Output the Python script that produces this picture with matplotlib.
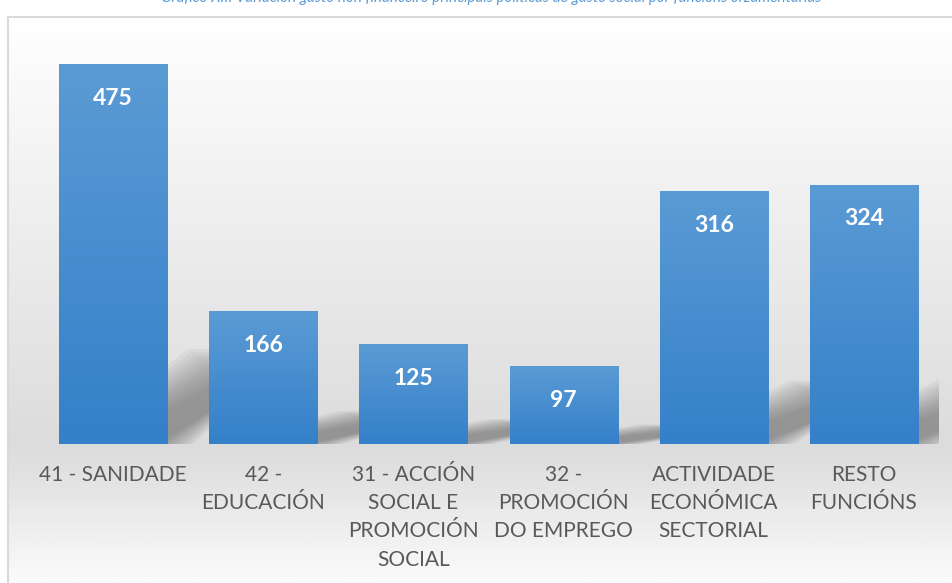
import matplotlib.pyplot as plt
import numpy as np
from matplotlib.colors import LinearSegmentedColormap
from matplotlib.patches import Polygon

plt.rcParams['font.family'] = ['Lato', 'DejaVu Sans']

# datos: variación gasto non financeiro por funcións (millóns €)
categorias = ['41 - SANIDADE', '42 -\nEDUCACIÓN', '31 - ACCIÓN\nSOCIAL E\nPROMOCIÓN\nSOCIAL',
              '32 -\nPROMOCIÓN\nDO EMPREGO', 'ACTIVIDADE\nECONÓMICA\nSECTORIAL', 'RESTO\nFUNCIÓNS']
valores = [475, 166, 125, 97, 316, 324]
titulo = ('Gráfico XII. Variación gasto non financeiro principais políticas de gasto social '
          'por funcións orzamentarias')

W, H = 953, 583
fig = plt.figure(figsize=(W / 100, H / 100), dpi=100)

# fondo do gráfico con degradado vertical
bg = fig.add_axes([8 / W, 0, 1 - 8 / W, (H - 17) / H], zorder=0)
bg_cmap = LinearSegmentedColormap.from_list(
    'bg', [(0, '#ffffff'), (0.235, '#f4f4f4'), (0.756, '#dcdcdc'), (0.80, '#e0e0e0'), (1, '#fbfbfb')])
bg.imshow(np.linspace(0, 1, 300).reshape(-1, 1), aspect='auto', cmap=bg_cmap,
          extent=[0, 1, 0, 1], origin='upper')
bg.set_xlim(0, 1)
bg.set_ylim(0, 1)
bg.set_xticks([])
bg.set_yticks([])
for s in ['right', 'bottom']:
    bg.spines[s].set_visible(False)
for s in ['left', 'top']:
    bg.spines[s].set_color('#d9d9d9')
    bg.spines[s].set_linewidth(1.5)

fig.text(0.515, 1 + 2 / H, titulo, ha='center', va='center', fontsize=11,
         style='italic', color='#5b9bd5')

ax = fig.add_axes([38 / W, (H - 444) / H, 901 / W, 400 / H], zorder=1)
ax.patch.set_visible(False)
x = np.arange(len(valores))
bars = ax.bar(x, valores, width=0.72, color='#4a8fd2', zorder=3)
ax.set_xlim(-0.5, len(valores) - 0.5)
ax.set_ylim(0, 500)

# sombras en perspectiva detrás das barras
for b in bars:
    x0, w, h = b.get_x(), b.get_width(), b.get_height()
    sh, dx = 0.25 * h, 1.2 * w
    for k in range(12):
        shrink = k * 0.03 * w
        top = sh - k * sh * 0.03
        poly = Polygon([(x0 + shrink, 0), (x0 + w + dx * 0.2 - shrink, 0),
                        (x0 + w + dx - shrink, top), (x0 + dx + shrink, top)],
                       closed=True, facecolor='#707070', edgecolor='none', alpha=0.08, zorder=2)
        ax.add_patch(poly)

# degradado das barras
bar_cmap = LinearSegmentedColormap.from_list('bar', ['#3480c9', '#5b9bd5'])
grad = np.linspace(0, 1, 256).reshape(-1, 1)
for b in bars:
    im = ax.imshow(grad, aspect='auto', cmap=bar_cmap, origin='lower', zorder=4,
                   extent=[b.get_x(), b.get_x() + b.get_width(), 0, b.get_height()])
    im.set_clip_path(b)
ax.set_xlim(-0.5, len(valores) - 0.5)
ax.set_ylim(0, 500)

for b, v in zip(bars, valores):
    ax.annotate(str(v), (b.get_x() + b.get_width() / 2, v), xytext=(0, -24.5),
                textcoords='offset points', ha='center', va='center',
                fontsize=16.5, fontweight='bold', color='white', zorder=5)

ax.set_xticks(x)
ax.set_xticklabels(categorias, fontsize=15, color='#595959', linespacing=1.52)
ax.tick_params(axis='x', length=0, pad=15)
ax.set_yticks([])
for s in ax.spines.values():
    s.set_visible(False)

plt.savefig('out.png', dpi=100)
plt.close()
